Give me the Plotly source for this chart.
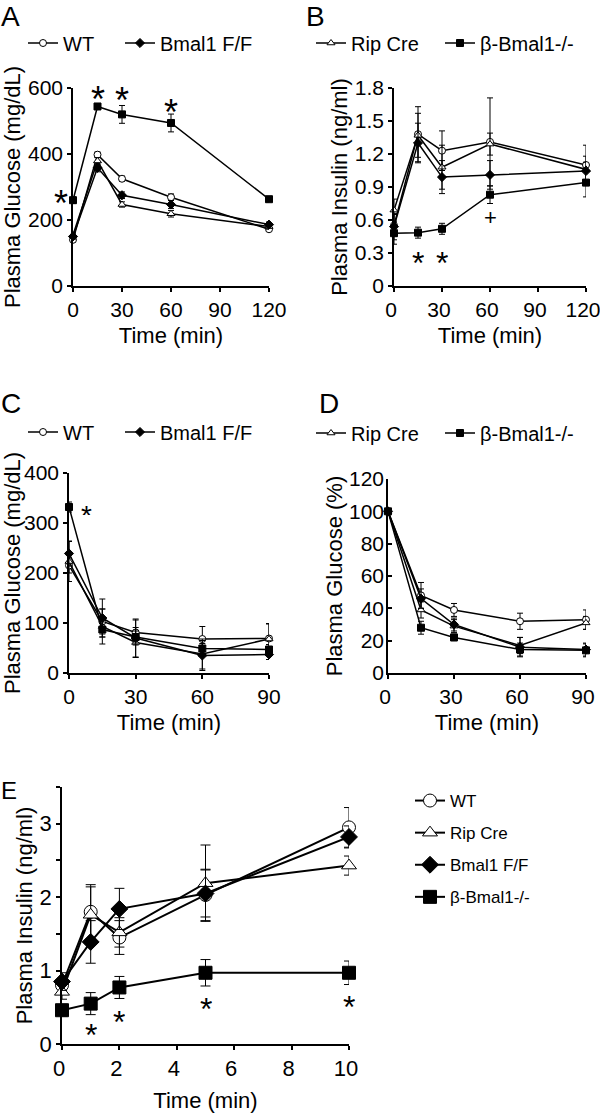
import plotly.graph_objects as go

W, H = 600, 1113
FONT = "Liberation Sans, Arial, sans-serif"

# ---- data ----
groups = ["WT", "Rip Cre", "Bmal1 F/F", "β-Bmal1-/-"]

# A: plasma glucose during GTT (mg/dL)
gtt_time = [0, 15, 30, 60, 120]
gtt_wt = [140, 398, 325, 269, 172]
gtt_wt_err = [6, 8, 8, 10, 6]
gtt_rip = [155, 379, 247, 219, 180]
gtt_rip_err = [8, 10, 8, 10, 8]
gtt_flox = [150, 358, 275, 247, 186]
gtt_flox_err = [8, 12, 10, 12, 8]
gtt_ko = [260, 544, 520, 494, 263]
gtt_ko_err = [10, 8, 27, 27, 8]

# B: plasma insulin during GTT (ng/ml)
ins_time = [0, 15, 30, 60, 120]
ins_wt = [0.55, 1.38, 1.23, 1.31, 1.10]
ins_wt_err = [0.1, 0.25, 0.18, 0.4, 0.18]
ins_rip = [0.69, 1.37, 1.08, 1.29, 1.06]
ins_rip_err = [0.1, 0.2, 0.2, 0.1, 0.12]
ins_flox = [0.54, 1.30, 0.99, 1.01, 1.045]
ins_flox_err = [0.12, 0.18, 0.15, 0.13, 0.08]
ins_ko = [0.48, 0.485, 0.52, 0.83, 0.94]
ins_ko_err = [0.1, 0.05, 0.05, 0.08, 0.13]

# C: plasma glucose during ITT (mg/dL)
itt_time = [0, 15, 30, 60, 90]
itt_wt = [215, 103, 81, 68, 69]
itt_wt_err = [15, 25, 25, 25, 30]
itt_rip = [223, 93, 61, 38, 68]
itt_rip_err = [40, 35, 30, 30, 30]
itt_flox = [239, 110, 70, 35, 37]
itt_flox_err = [25, 38, 38, 30, 10]
itt_ko = [332, 87, 72, 49, 47]
itt_ko_err = [10, 15, 12, 10, 10]

# D: plasma glucose during ITT (% of baseline)
itt_pct_wt = [100, 48, 39, 32, 33]
itt_pct_wt_err = [0, 8, 4, 5, 6]
itt_pct_rip = [100, 39, 29, 17, 31]
itt_pct_rip_err = [0, 5, 4, 5, 4]
itt_pct_flox = [100, 46, 30, 16, 14.5]
itt_pct_flox_err = [0, 6, 4, 6, 4]
itt_pct_ko = [100, 28, 22, 14.5, 14]
itt_pct_ko_err = [0, 4, 2, 4, 4]

# E: first-phase insulin secretion (ng/ml)
gsis_time = [0, 1, 2, 5, 10]
gsis_wt = [0.80, 1.80, 1.45, 2.03, 2.95]
gsis_wt_err = [0.12, 0.37, 0.23, 0.35, 0.27]
gsis_rip = [0.71, 1.76, 1.52, 2.19, 2.43]
gsis_rip_err = [0.1, 0.38, 0.2, 0.52, 0.13]
gsis_flox = [0.85, 1.39, 1.84, 2.05, 2.82]
gsis_flox_err = [0.12, 0.29, 0.28, 0.32, 0.15]
gsis_ko = [0.46, 0.55, 0.77, 0.97, 0.97]
gsis_ko_err = [0.08, 0.15, 0.15, 0.18, 0.16]

# significance marks: (x, y, text, x offset in px)
marks_a = [(0, 275, "*", -12), (15, 590, "*", 0), (30, 588, "*", 0), (60, 552, "*", 0)]
marks_b = [(15, 0.28, "*", 0), (30, 0.28, "*", 0), (60, 0.62, "+", 0)]
marks_c = [(0, 328, "*", 17)]
marks_e = [(1, 0.22, "*", 0), (2, 0.40, "*", 0), (5, 0.58, "*", 0), (10, 0.60, "*", 0)]

# ---- styling ----
symbols = {"WT": "circle", "Rip Cre": "triangle-up", "Bmal1 F/F": "diamond", "β-Bmal1-/-": "square"}
fills = {"WT": "white", "Rip Cre": "white", "Bmal1 F/F": "black", "β-Bmal1-/-": "black"}


def px_domain(x0, x1, y0, y1):
    return [x0 / W, x1 / W], [1 - y1 / H, 1 - y0 / H]


fig = go.Figure()


def add_series(idx, x, y, err, name, legend, msize, lw, cap):
    ax = "" if idx == 1 else str(idx)
    fig.add_trace(
        go.Scatter(
            x=x,
            y=y,
            name=name,
            mode="lines+markers",
            error_y=dict(type="data", array=err, color="black", thickness=1, width=cap),
            line=dict(color="black", width=lw),
            marker=dict(symbol=symbols[name], size=msize, color=fills[name], line=dict(color="black", width=1)),
            cliponaxis=False,
            xaxis="x" + ax,
            yaxis="y" + ax,
            legend=legend or "legend",
            showlegend=legend is not None,
            legendgroup=name + str(legend),
        )
    )


panel_a = [(gtt_wt, gtt_wt_err), (gtt_rip, gtt_rip_err), (gtt_flox, gtt_flox_err), (gtt_ko, gtt_ko_err)]
panel_b = [(ins_wt, ins_wt_err), (ins_rip, ins_rip_err), (ins_flox, ins_flox_err), (ins_ko, ins_ko_err)]
panel_c = [(itt_wt, itt_wt_err), (itt_rip, itt_rip_err), (itt_flox, itt_flox_err), (itt_ko, itt_ko_err)]
panel_d = [(itt_pct_wt, itt_pct_wt_err), (itt_pct_rip, itt_pct_rip_err),
           (itt_pct_flox, itt_pct_flox_err), (itt_pct_ko, itt_pct_ko_err)]
panel_e = [(gsis_wt, gsis_wt_err), (gsis_rip, gsis_rip_err), (gsis_flox, gsis_flox_err), (gsis_ko, gsis_ko_err)]

# the top legends are split over the panels, one legend box per entry
legend_a = {"WT": "legend", "Bmal1 F/F": "legend2"}
legend_b = {"Rip Cre": "legend3", "β-Bmal1-/-": "legend4"}
legend_c = {"WT": "legend5", "Bmal1 F/F": "legend6"}
legend_d = {"Rip Cre": "legend7", "β-Bmal1-/-": "legend8"}

for name, (y, e) in zip(groups, panel_a):
    add_series(1, gtt_time, y, e, name, legend_a.get(name), 7, 1.5, 3)
for name, (y, e) in zip(groups, panel_b):
    add_series(2, ins_time, y, e, name, legend_b.get(name), 7, 1.5, 3)
for name, (y, e) in zip(groups, panel_c):
    add_series(3, itt_time, y, e, name, legend_c.get(name), 7, 1.5, 3)
for name, (y, e) in zip(groups, panel_d):
    add_series(4, itt_time, y, e, name, legend_d.get(name), 7, 1.5, 3)
for name, (y, e) in zip(groups, panel_e):
    add_series(5, gsis_time, y, e, name, "legend9", 13, 2, 5)

axis_common = dict(
    showline=True, linecolor="black", linewidth=1.5, ticks="outside", ticklen=4, tickwidth=1.5,
    tickcolor="black", showgrid=False, zeroline=False, tickfont=dict(size=21, color="black"),
    title_font=dict(size=22, color="black"), automargin=False, ticklabeloverflow="allow",
)

dom = {
    1: px_domain(73, 269, 88, 286),
    2: px_domain(394, 586, 88, 286),
    3: px_domain(69, 269, 473, 673),
    4: px_domain(388, 586, 479, 673),
    5: px_domain(62, 349, 787, 1044),
}
xr = {1: [0, 120], 2: [0, 120], 3: [0, 90], 4: [0, 90], 5: [0, 10]}
xd = {1: 30, 2: 30, 3: 30, 4: 30, 5: 2}
yr = {1: [0, 600], 2: [0, 1.8], 3: [0, 400], 4: [0, 120], 5: [0, 3.5]}
yd = {1: 200, 2: 0.3, 3: 100, 4: 20, 5: 0.5}
ytitles = {
    1: "Plasma Glucose (mg/dL)", 2: "Plasma Insulin (ng/ml)", 3: "Plasma Glucose (mg/dL)",
    4: "Plasma Glucose (%)", 5: "Plasma Insulin (ng/ml)",
}

layout = {}
for i in range(1, 6):
    k = "" if i == 1 else str(i)
    layout["xaxis" + k] = dict(
        axis_common, domain=dom[i][0], range=xr[i], dtick=xd[i], tick0=0, anchor="y" + k,
        title=dict(text="Time (min)", standoff=8 if i < 5 else 12),
        ticklabelshift=-3 if i in (2, 4, 5) else 0,
    )
    ylab = dict(axis_common, domain=dom[i][1], range=yr[i], dtick=yd[i], tick0=0, anchor="x" + k,
                title=dict(text=ytitles[i], standoff=1))
    if i == 4:
        ylab.update(ticks="inside", ticklabelstandoff=-2, title=dict(text=ytitles[i], standoff=0))
    if i == 5:
        vals = [v * 0.5 for v in range(8)]
        ylab.update(tickmode="array", tickvals=vals,
                    ticktext=[str(int(v)) if v == int(v) else "" for v in vals])
        layout["xaxis5"]["tickfont"] = dict(size=22, color="black")
        ylab["tickfont"] = dict(size=22, color="black")
    layout["yaxis" + k] = ylab

legend_common = dict(orientation="h", font=dict(size=20, color="black", family=FONT),
                     bgcolor="rgba(0,0,0,0)", itemwidth=30, xanchor="left", yanchor="middle")
legend_pos = {
    "legend": (23, 43), "legend2": (120, 43), "legend3": (311, 43), "legend4": (440, 43),
    "legend5": (23, 432), "legend6": (120, 432), "legend7": (311, 433), "legend8": (440, 433),
}
for key, (lx, ly) in legend_pos.items():
    layout[key] = dict(legend_common, x=lx / W, y=1 - ly / H)
layout["legend9"] = dict(orientation="v", font=dict(size=17, color="black", family=FONT),
                         bgcolor="rgba(0,0,0,0)", itemwidth=30, xanchor="left", yanchor="top",
                         x=410 / W, y=1 - 783 / H, tracegroupgap=7)

annotations = []
# panel letters: (text, left px, top px, font size)
letters = [("A", 0, 0, 28), ("B", 305, 0, 28), ("C", 0, 387, 28), ("D", 318, 387, 28), ("E", 0, 776, 24)]
for txt, lx, ly, fs in letters:
    annotations.append(dict(text=txt, x=lx / W, y=1 - ly / H, xref="paper", yref="paper",
                            xanchor="left", yanchor="top", showarrow=False, borderpad=0,
                            font=dict(size=fs, color="black")))
for marks, k, fs in [(marks_a, "", 36), (marks_b, "2", 32), (marks_c, "3", 28), (marks_e, "5", 32)]:
    for mx, my, txt, dx in marks:
        if txt == "*":
            # tight box around the asterisk glyph, which sits high in the line
            box = round(0.55 * fs)
            annotations.append(dict(text=txt, x=mx, y=my, xref="x" + k, yref="y" + k, showarrow=False,
                                    xanchor="center", yanchor="middle", xshift=dx, valign="top",
                                    height=box, borderpad=0, yshift=0.3325 * fs - box / 2,
                                    font=dict(size=fs, color="black")))
        else:
            annotations.append(dict(text=txt, x=mx, y=my, xref="x" + k, yref="y" + k, showarrow=False,
                                    xanchor="center", yanchor="middle", xshift=dx,
                                    font=dict(size=22, color="black")))

fig.update_layout(
    width=W,
    height=H,
    margin=dict(l=0, r=0, t=0, b=0),
    template="none",
    paper_bgcolor="white",
    plot_bgcolor="white",
    font=dict(family=FONT, color="black", size=22),
    annotations=annotations,
    **layout,
)

fig.write_html(
    "out.html",
    config={"displayModeBar": False},
    post_script="document.body.style.margin='0';document.body.style.overflow='hidden';",
)
